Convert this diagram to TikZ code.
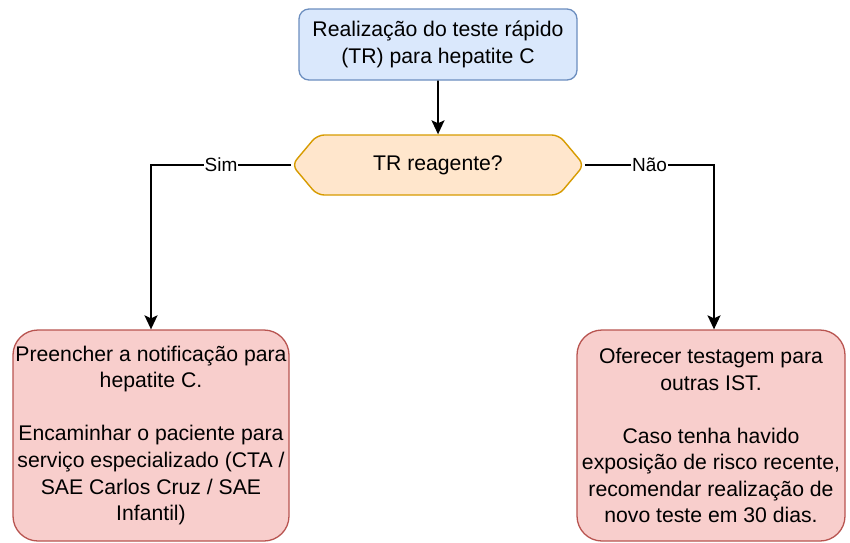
\documentclass[tikz,border=0pt]{standalone}
\usepackage{fontspec}
\setmainfont{Liberation Sans}
\usetikzlibrary{arrows.meta,shapes.symbols}

\definecolor{bluefill}{HTML}{DAE8FC}
\definecolor{bluedraw}{HTML}{6C8EBF}
\definecolor{orangefill}{HTML}{FFE6CC}
\definecolor{orangedraw}{HTML}{D79B00}
\definecolor{redfill}{HTML}{F8CECC}
\definecolor{reddraw}{HTML}{B85450}

\tikzset{
    boxtext/.style={font=\fontsize{21.2}{26.5}\selectfont, align=center, inner sep=0pt},
    startbox/.style={boxtext, draw=bluedraw, fill=bluefill, line width=1.3pt, rounded corners=10pt,
        minimum width=278pt, minimum height=71pt},
    decisionbox/.style={boxtext, draw=orangedraw, fill=orangefill, line width=1.4pt, rounded corners=7pt,
        shape=signal, signal to=west and east, signal pointer angle=100,
        minimum width=292pt, minimum height=60pt},
    endbox/.style={boxtext, draw=reddraw, fill=redfill, line width=1.3pt, rounded corners=25pt,
        minimum height=211pt},
    flow/.style={line width=1.8pt, -{Stealth[length=14pt,width=13pt,inset=3pt]}},
    answer/.style={font=\fontsize{19}{22}\selectfont, fill=white, inner sep=1pt}
}

\begin{document}
\begin{tikzpicture}[x=1pt, y=-1pt]
        \useasboundingbox (0,0) rectangle (850,542);

        % Test
        \node[startbox] (test) at (438,44.5) {Realização do teste rápido\\(TR) para hepatite C};

        % Decision
        \node[decisionbox] (reagent) at (438,165) {TR reagente?};

        % Outcomes
        \node[endbox, minimum width=276pt] (yes) at (151,435.5)
            {Preencher a notificação para\\hepatite C.\\[26.5pt]Encaminhar o paciente para\\serviço especializado (CTA /\\SAE Carlos Cruz / SAE\\Infantil)};
        \node[endbox, minimum width=268pt] (no) at (711,435.5)
            {Oferecer testagem para\\outras IST.\\[26.5pt]Caso tenha havido\\exposição de risco recente,\\recomendar realização de\\novo teste em 30 dias.};

        % Connectors
        \draw[flow] (test) -- (reagent);
        \draw[flow] (reagent.west) -| node[answer, pos=0.25] {Sim} (yes.north);
        \draw[flow] (reagent.east) -| node[answer, pos=0.25] {Não} ([xshift=3pt]no.north);
\end{tikzpicture}
\end{document}
